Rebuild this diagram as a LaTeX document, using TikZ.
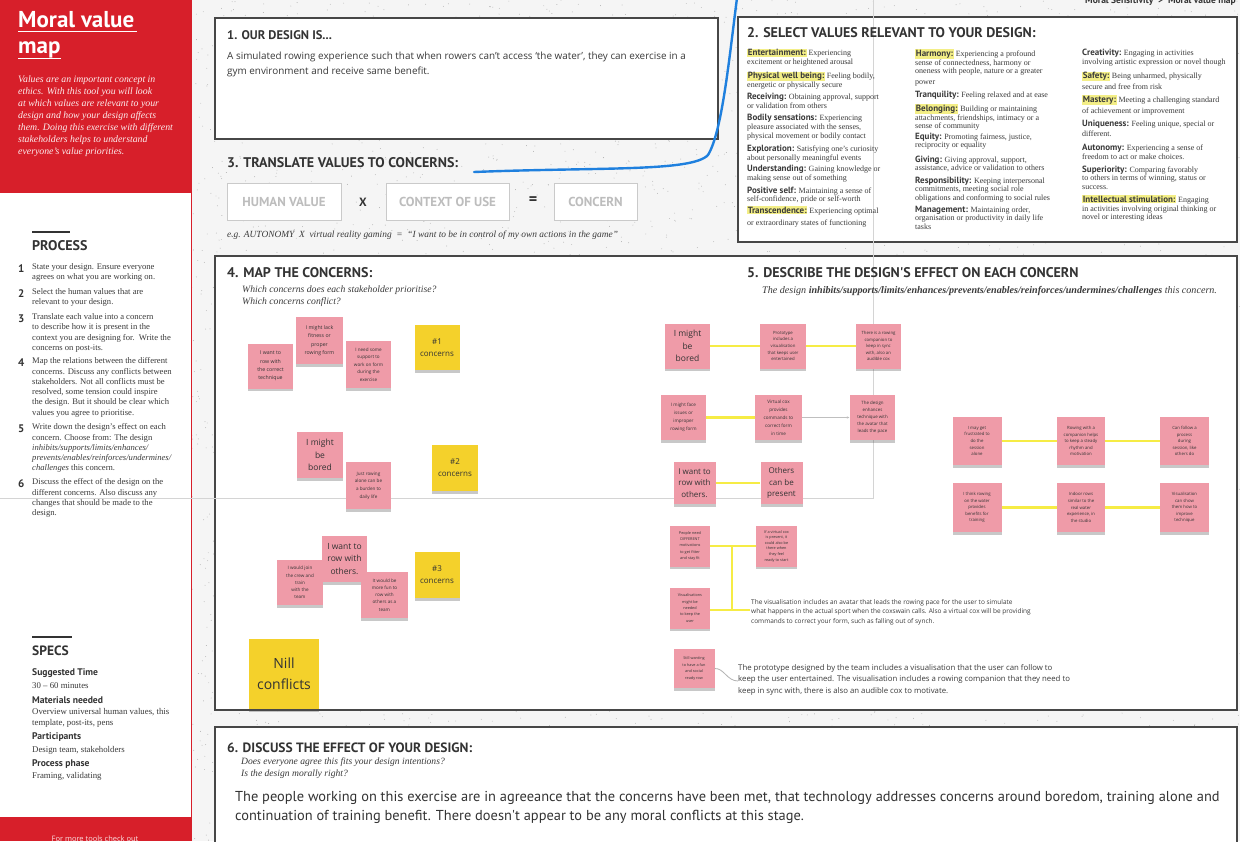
\documentclass[tikz,border=0pt]{standalone}
\usepackage{fontspec}
\setmainfont{Liberation Serif}
\newfontfamily\dinf{PT Sans}
\newfontfamily\osans{Open Sans}
\usetikzlibrary{shadows,arrows.meta}
\definecolor{mvred}{HTML}{D71F2A}
\definecolor{bgc}{HTML}{F5F5F5}
\definecolor{speck}{HTML}{B0B0B0}
\definecolor{boxc}{HTML}{474747}
\definecolor{hd}{HTML}{333333}
\definecolor{txt}{HTML}{3A3A3A}
\definecolor{notepink}{HTML}{EF9BA8}
\definecolor{notey}{HTML}{F4D12B}
\definecolor{linky}{HTML}{F6EC45}
\definecolor{hly}{HTML}{F3EE86}
\definecolor{pen}{HTML}{1F80DE}
\definecolor{faint}{HTML}{D4D4D4}
\definecolor{ghost}{HTML}{BDBDBD}
\newcommand\hlt[1]{\begingroup\setlength{\fboxsep}{0.7pt}\colorbox{hly}{#1}\endgroup}
\newcommand\lab[1]{{\dinf\bfseries\fontsize{9}{9}\selectfont #1}}
\begin{document}
\begin{tikzpicture}[x=1pt,y=-1pt,
  box/.style={draw=boxc,line width=1.6pt,fill=white},
  sechead/.style={anchor=west,inner sep=0,text=hd,font=\dinf\bfseries\fontsize{14}{14}\selectfont},
  val/.style={anchor=north west,inner sep=0,align=left,text=txt,font=\fontsize{8}{8.8}\selectfont},
  proc/.style={anchor=north west,inner sep=0,align=left,text=txt,font=\fontsize{8.6}{10.3}\selectfont},
  pnum/.style={anchor=west,inner sep=0,text=hd,font=\dinf\bfseries\fontsize{11}{11}\selectfont},
  spk/.style={anchor=west,inner sep=0,text=hd,font=\dinf\bfseries\fontsize{9.6}{10}\selectfont},
  spv/.style={anchor=north west,inner sep=0,align=left,text=txt,font=\fontsize{8.8}{11}\selectfont},
  ghostbox/.style={draw=ghost!80,line width=1pt,fill=white,text=ghost,font=\dinf\bfseries\fontsize{13}{13}\selectfont,minimum height=37pt},
  note/.style={fill=notepink,minimum width=45pt,minimum height=45pt,inner sep=1pt,align=center,text=black!80,
    font=\osans\fontsize{4.3}{6.6}\selectfont,
    drop shadow={shadow xshift=0pt,shadow yshift=-2.5pt,opacity=0.3,fill=black!70}},
  note4/.style={note,font=\osans\fontsize{5.2}{8.4}\selectfont},
  bignote/.style={note,font=\osans\fontsize{8.5}{12.5}\selectfont},
  ynote/.style={note,fill=notey,font=\osans\fontsize{8}{12}\selectfont},
  yline/.style={draw=linky,line width=2.4pt},
  garrow/.style={draw=gray!50,line width=0.8pt,-{Latex[length=3pt,width=2.5pt]}},
  smalltxt/.style={anchor=north west,inner sep=0,align=left,text=txt,font=\osans\fontsize{6.5}{9.5}\selectfont},
]
\useasboundingbox (0,0) rectangle (1240,841);
% background with speckles
\fill[bgc] (0,0) rectangle (1240,841);
\pgfmathsetseed{7}
\foreach \i in {1,...,5000}{\fill[speck] ({rnd*1240},{rnd*841}) circle (0.45);}

% ---------------- left sidebar ----------------
\fill[white] (0,0) rectangle (191,841);
\fill[mvred] (0,0) rectangle (191,193);
\fill[mvred] (0,817) rectangle (191,841);
\draw[mvred,line width=1.2pt] (191.5,0) -- (191.5,841);
\node[anchor=base west,inner sep=0,text=white,font=\dinf\bfseries\fontsize{23}{23}\selectfont] (t1) at (18,27) {Moral value};
\draw[white,line width=1.5pt] (18,31.5) -- ([xshift=3pt]t1.east |- 0,31.5);
\node[anchor=base west,inner sep=0,text=white,font=\dinf\bfseries\fontsize{23}{23}\selectfont] (t2) at (18,53) {map};
\draw[white,line width=1.5pt] (18,58.5) -- (t2.east |- 0,58.5);
\node[anchor=north west,inner sep=0,align=left,text=white!92!mvred,font=\itshape\fontsize{9.8}{12}\selectfont] (intro) at (18,75.5)
 {Values are an important concept in\\ethics. With this tool you will look\\at which values are relevant to your\\design and how your design affects\\them. Doing this exercise with different\\stakeholders helps to understand\\everyone's value priorities.};

\draw[hd,line width=2.2pt] (32,232) -- (70,232);
\node[anchor=west,inner sep=0,text=hd,font=\dinf\bfseries\fontsize{14}{14}\selectfont] (process) at (32,245.5) {PROCESS};
\node[pnum] (n1) at (18,268.5) {1};
\node[proc] (p1) at (32,263.5) {State your design. Ensure everyone\\agrees on what you are working on.};
\node[pnum] (n2) at (18,293.5) {2};
\node[proc] (p2) at (32,288.5) {Select the human values that are\\relevant to your design.};
\node[pnum] (n3) at (18,318.5) {3};
\node[proc] (p3) at (32,313.5) {Translate each value into a concern\\to describe how it is present in the\\context you are designing for.\ \ Write the\\concerns on post-its.};
\node[pnum] (n4) at (18,362.5) {4};
\node[proc] (p4) at (32,357.5) {Map the relations between the different\\concerns. Discuss any conflicts between\\stakeholders. Not all conflicts must be\\resolved, some tension could inspire\\the design. But it should be clear which\\values you agree to prioritise.};
\node[pnum] (n5) at (18,428.5) {5};
\node[proc] (p5) at (32,423.5) {Write down the design's effect on each\\concern. Choose from: The design\\\textit{inhibits/supports/limits/enhances/}\\\textit{prevents/enables/reinforces/undermines/}\\\textit{challenges} this concern.};
\node[pnum] (n6) at (18,483.5) {6};
\node[proc] (p6) at (32,478.5) {Discuss the effect of the design on the\\different concerns. Also discuss any\\changes that should be made to the\\design.};

\draw[hd,line width=2.2pt] (32,637) -- (72,637);
\node[anchor=west,inner sep=0,text=hd,font=\dinf\bfseries\fontsize{13.5}{14}\selectfont] (specs) at (32,651) {SPECS};
\node[spk] (k1) at (32,673) {Suggested Time};
\node[spv] (v1) at (32,682.5) {30 -- 60 minutes};
\node[spk] (k2) at (32,700) {Materials needed};
\node[spv] (v2) at (32,708.5) {Overview universal human values, this\\template, post-its, pens};
\node[spk] (k3) at (32,737.5) {Participants};
\node[spv] (v3) at (32,746.5) {Design team, stakeholders};
\node[spk] (k4) at (32,764) {Process phase};
\node[spv] (v4) at (32,772.5) {Framing, validating};
\node[inner sep=0,text=white!85!mvred,font=\osans\fontsize{7.5}{8}\selectfont] (more) at (95,838.5) {For more tools check out};

% header (cut at top, as in the reference)
\node[anchor=base east,inner sep=0,text=hd,font=\dinf\bfseries\fontsize{9.5}{10}\selectfont] (crumb) at (1236,3.5) {Moral Sensitivity\ \ \textgreater\ \ Moral value map};

% ---------------- section boxes ----------------
\draw[box] (215,18) rectangle (718,139);
\draw[box] (738,17) rectangle (1237,242);
\draw[box] (215,256) rectangle (1237,710);
\draw[box] (215,727) rectangle (1237,860);

% faint screenshot seams
\draw[faint,line width=0.7pt] (873.5,0) -- (873.5,498);
\draw[faint,line width=0.7pt] (0,498.5) -- (873.5,498.5);

% ---------------- section 1 ----------------
\node[anchor=west,inner sep=0,text=hd,font=\dinf\bfseries\fontsize{12.5}{13}\selectfont] (h1) at (227,35) {1. OUR DESIGN IS...};
\node[anchor=north west,inner sep=0,align=left,text=txt,font=\osans\fontsize{9.9}{15}\selectfont] (d1) at (227,51.5)
 {A simulated rowing experience such that when rowers can’t access ‘the water’, they can exercise in a\\gym environment and receive same benefit.};

% ---------------- section 3 ----------------
\node[sechead] (h3) at (227,163) {3. TRANSLATE VALUES TO CONCERNS:};
\node[ghostbox,minimum width=114pt] (hv) at (284,201.5) {HUMAN VALUE};
\node[inner sep=0,text=hd,font=\dinf\bfseries\fontsize{12}{12}\selectfont] (xx) at (363,202) {X};
\node[ghostbox,minimum width=123pt] (cu) at (447.5,201.5) {CONTEXT OF USE};
\node[inner sep=0,text=hd,font=\dinf\bfseries\fontsize{16}{16}\selectfont] (eq) at (533,201) {=};
\node[ghostbox,minimum width=83pt] (cc) at (595.5,201.5) {CONCERN};
\node[anchor=west,inner sep=0,text=txt,font=\itshape\fontsize{9.4}{9}\selectfont] (eg) at (227,235)
 {e.g. AUTONOMY\ \ X\ \ virtual reality gaming\ \ =\ \ ``I want to be in control of my own actions in the game''};

% blue pen stroke
\draw[pen,line width=2.4pt,line cap=round] (474,172) .. controls (600,167) and (692,172) .. (708,155) .. controls (722,132) and (729,60) .. (737,-2);

% ---------------- section 2 ----------------
\node[sechead] (h2) at (747,33) {2. SELECT VALUES RELEVANT TO YOUR DESIGN:};
% column 1
\node[val] (a1) at (747,48.5) {\hlt{\lab{Entertainment:}} Experiencing\\excitement or heightened arousal};
\node[val] (a2) at (747,71.5) {\hlt{\lab{Physical well being:}} Feeling bodily,\\energetic or physically secure};
\node[val] (a3) at (747,93) {\lab{Receiving:} Obtaining approval, support\\or validation from others};
\node[val] (a4) at (747,114) {\lab{Bodily sensations:} Experiencing\\pleasure associated with the senses,\\physical movement or bodily contact};
\node[val] (a5) at (747,145) {\lab{Exploration:} Satisfying one's curiosity\\about personally meaningful events};
\node[val] (a6) at (747,165) {\lab{Understanding:} Gaining knowledge or\\making sense out of something};
\node[val] (a7) at (747,186.5) {\lab{Positive self:} Maintaining a sense of\\self-confidence, pride or self-worth};
\node[val] (a8) at (747,206) {\hlt{\lab{Transcendence:}} Experiencing optimal\\[3pt]or extraordinary states of functioning};
% column 2
\node[val] (b1) at (915,49) {\hlt{\lab{Harmony:}} Experiencing a profound\\sense of connectedness, harmony or\\oneness with people, nature or a greater\\[2pt]power};
\node[val] (b2) at (915,90.5) {\lab{Tranquility:} Feeling relaxed and at ease};
\node[val] (b3) at (915,104) {\hlt{\lab{Belonging:}} Building or maintaining\\attachments, friendships, intimacy or a\\sense of community};
\node[val] (b4) at (915,132.5) {\lab{Equity:} Promoting fairness, justice,\\reciprocity or equality};
\node[val] (b5) at (915,155.5) {\lab{Giving:} Giving approval, support,\\assistance, advice or validation to others};
\node[val] (b6) at (915,176.5) {\lab{Responsibility:} Keeping interpersonal\\commitments, meeting social role\\obligations and conforming to social rules};
\node[val] (b7) at (915,205.5) {\lab{Management:} Maintaining order,\\organisation or productivity in daily life\\tasks};
% column 3
\node[val] (c1) at (1082,49) {\lab{Creativity:} Engaging in activities\\involving artistic expression or novel though};
\node[val] (c2) at (1082,71.5) {\hlt{\lab{Safety:}} Being unharmed, physically\\[2pt]secure and free from risk};
\node[val] (c3) at (1082,95) {\hlt{\lab{Mastery:}} Meeting a challenging standard\\[2pt]of achievement or improvement};
\node[val] (c4) at (1082,119.5) {\lab{Uniqueness:} Feeling unique, special or\\[2pt]different.};
\node[val] (c5) at (1082,144) {\lab{Autonomy:} Experiencing a sense of\\freedom to act or make choices.};
\node[val] (c6) at (1082,165.5) {\lab{Superiority:} Comparing favorably\\to others in terms of winning, status or\\success.};
\node[val] (c7) at (1082,195) {\hlt{\lab{Intellectual stimulation:}} Engaging\\in activities involving original thinking or\\novel or interesting ideas};

% ---------------- section 4 ----------------
\node[sechead] (h4) at (227,273) {4. MAP THE CONCERNS:};
\node[anchor=north west,inner sep=0,align=left,text=txt,font=\itshape\fontsize{9.7}{12}\selectfont] (q4) at (242,285.5)
 {Which concerns does each stakeholder prioritise?\\Which concerns conflict?};

\node[note4] (s4a) at (270.5,366) {I want to\\row with\\the correct\\technique};
\node[note4,minimum width=47pt,minimum height=47pt] (s4b) at (319.5,340.5) {I might lack\\fitness or\\proper\\rowing form};
\node[note4,font=\osans\fontsize{4.6}{7.4}\selectfont,minimum height=47pt] (s4c) at (368.5,364.5) {I need some\\support to\\work on form\\during the\\exercise};
\node[ynote] (y1) at (437,347.5) {\#1\\concerns};
\node[bignote,minimum width=46pt,minimum height=46pt] (s4d) at (320,455) {I might\\be\\bored};
\node[note4,font=\osans\fontsize{4.6}{7.6}\selectfont,minimum height=47pt] (s4e) at (368.5,485.5) {Just rowing\\alone can be\\a burden to\\daily life};
\node[ynote,minimum width=46pt,minimum height=46pt] (y2) at (455,468) {\#2\\concerns};
\node[bignote,minimum height=46pt] (s4f) at (344.5,559) {I want to\\row with\\others.};
\node[note4,font=\osans\fontsize{4.6}{7.2}\selectfont,minimum width=46pt] (s4g) at (300,582.5) {I would join\\the crew and\\train\\with the\\team};
\node[note4,font=\osans\fontsize{4.6}{7.2}\selectfont,minimum width=47pt,minimum height=46pt] (s4h) at (384.5,595) {It would be\\more fun to\\row with\\others as a\\team};
\node[ynote,minimum height=46pt] (y3) at (437,575) {\#3\\concerns};
\node[ynote,minimum width=70pt,minimum height=70pt,font=\osans\fontsize{14}{21}\selectfont] (ync) at (284,674) {Nill\\conflicts};

% ---------------- section 5 ----------------
\node[sechead] (h5) at (747,273) {5. DESCRIBE THE DESIGN'S EFFECT ON EACH CONCERN};
\node[anchor=west,inner sep=0,text=txt,font=\itshape\fontsize{10.1}{10}\selectfont] (q5) at (762,291)
 {The design \textbf{inhibits/supports/limits/enhances/prevents/enables/reinforces/undermines/challenges} this concern.};

% row 1
\node[bignote] (r1a) at (687.5,346) {I might\\be\\bored};
\node[note,minimum width=46pt] (r1b) at (783,346) {Prototype\\includes a\\visualisation\\that keeps user\\entertained};
\node[note] (r1c) at (878.5,346) {There is a rowing\\companion to\\keep in sync\\with, also an\\audible cox};
\draw[yline] (r1a) -- (r1b);
\draw[yline] (r1b) -- (r1c);
% row 2
\node[note4,font=\osans\fontsize{4.6}{8}\selectfont] (r2a) at (683.5,417.5) {I might face\\issues or\\improper\\rowing form};
\node[note4,font=\osans\fontsize{4.6}{8}\selectfont,minimum width=47pt] (r2b) at (778.5,417.5) {Virtual cox\\provides\\commands to\\correct form\\in time};
\node[note4,font=\osans\fontsize{4.4}{7}\selectfont] (r2c) at (872.5,417.5) {The design\\enhances\\technique with\\the avatar that\\leads the pace};
\draw[yline] (r2a) -- (r2b);
\draw[garrow] (r2b) -- (r2c);
% row 3
\node[bignote,font=\osans\fontsize{8}{11.7}\selectfont,minimum width=42pt,minimum height=42pt] (r3a) at (694.5,483) {I want to\\row with\\others.};
\node[bignote,font=\osans\fontsize{8}{11.7}\selectfont,minimum width=42pt,minimum height=42pt] (r3b) at (781.5,483) {Others\\can be\\present};
\draw[yline] (r3a) -- (r3b);
% right block
\node[note,minimum width=49pt,minimum height=48pt] (ra1) at (977,441) {I may get\\frustrated to\\do the\\session\\alone};
\node[note,minimum width=48pt,minimum height=48pt] (ra2) at (1081,441) {Rowing with a\\companion helps\\to keep a steady\\rhythm and\\motivation};
\node[note,minimum width=49pt,minimum height=48pt] (ra3) at (1184.5,441) {Can follow a\\process\\during\\session, like\\others do};
\draw[yline] (ra1) -- (ra2);
\draw[yline] (ra2) -- (ra3);
\node[note,minimum width=49pt,minimum height=49pt] (rb1) at (977,507.5) {I think rowing\\on the water\\provides\\benefits for\\training};
\node[note,minimum width=48pt,minimum height=49pt] (rb2) at (1081,507.5) {Indoor rows\\similar to the\\real water\\experience, in\\the studio};
\node[note,minimum width=49pt,minimum height=49pt] (rb3) at (1184.5,507.5) {Visualisation\\can show\\them how to\\improve\\technique};
\draw[yline] (rb1) -- (rb2);
\draw[yline] (rb2) -- (rb3);
% lower left tree
\node[note,minimum width=40pt,minimum height=41pt,font=\osans\fontsize{3.8}{6.4}\selectfont] (l1) at (690,546) {People need\\DIFFERENT\\motivations\\to get fitter\\and stay fit};
\node[note,minimum width=41pt,minimum height=41pt,font=\osans\fontsize{3.8}{5.6}\selectfont] (l2) at (776.5,546) {If a virtual cox\\is present, it\\could also be\\there when\\they feel\\ready to start};
\node[note,minimum width=40pt,minimum height=41pt,font=\osans\fontsize{3.8}{6.4}\selectfont] (l3) at (690,608) {Visualisations\\might be\\needed\\to keep the\\user};
\coordinate (j1) at (732,546);
\coordinate (tend) at (750,610);
\draw[yline] (l1) -- (l2);
\draw[yline] (j1) -- (j1 |- tend);
\draw[yline] (l3.east |- tend) -- (tend);
\node[smalltxt] (t5a) at (751,599) {The visualisation includes an avatar that leads the rowing pace for the user to simulate\\what happens in the actual sport when the coxswain calls. Also a virtual cox will be providing\\commands to correct your form, such as falling out of synch.};
\node[note,minimum width=41pt,minimum height=39pt,font=\osans\fontsize{3.8}{6.4}\selectfont] (l4) at (694,668.5) {Still wanting\\to have a fun\\and social\\ready row};
\node[smalltxt,font=\osans\fontsize{7.8}{11.5}\selectfont] (t5b) at (738,664) {The prototype designed by the team includes a visualisation that the user can follow to\\keep the user entertained. The visualisation includes a rowing companion that they need to\\keep in sync with, there is also an audible cox to motivate.};
\coordinate (t5bin) at (738,681);
\draw[gray!60,line width=0.8pt] (l4.east) .. controls (724,668) and (727,681) .. (t5bin);

% ---------------- section 6 ----------------
\node[anchor=west,inner sep=0,text=hd,font=\dinf\bfseries\fontsize{13.5}{14}\selectfont] (h6) at (227,748) {6. DISCUSS THE EFFECT OF YOUR DESIGN:};
\node[anchor=north west,inner sep=0,align=left,text=txt,font=\itshape\fontsize{9.6}{12}\selectfont] (q6) at (241,758)
 {Does everyone agree this fits your design intentions?\\Is the design morally right?};
\node[anchor=north west,inner sep=0,align=left,text=hd,font=\dinf\fontsize{14.4}{19}\selectfont] (d6) at (235,791)
 {The people working on this exercise are in agreeance that the concerns have been met, that technology addresses concerns around boredom, training alone and\\continuation of training benefit. There doesn't appear to be any moral conflicts at this stage.};
\end{tikzpicture}
\end{document}
